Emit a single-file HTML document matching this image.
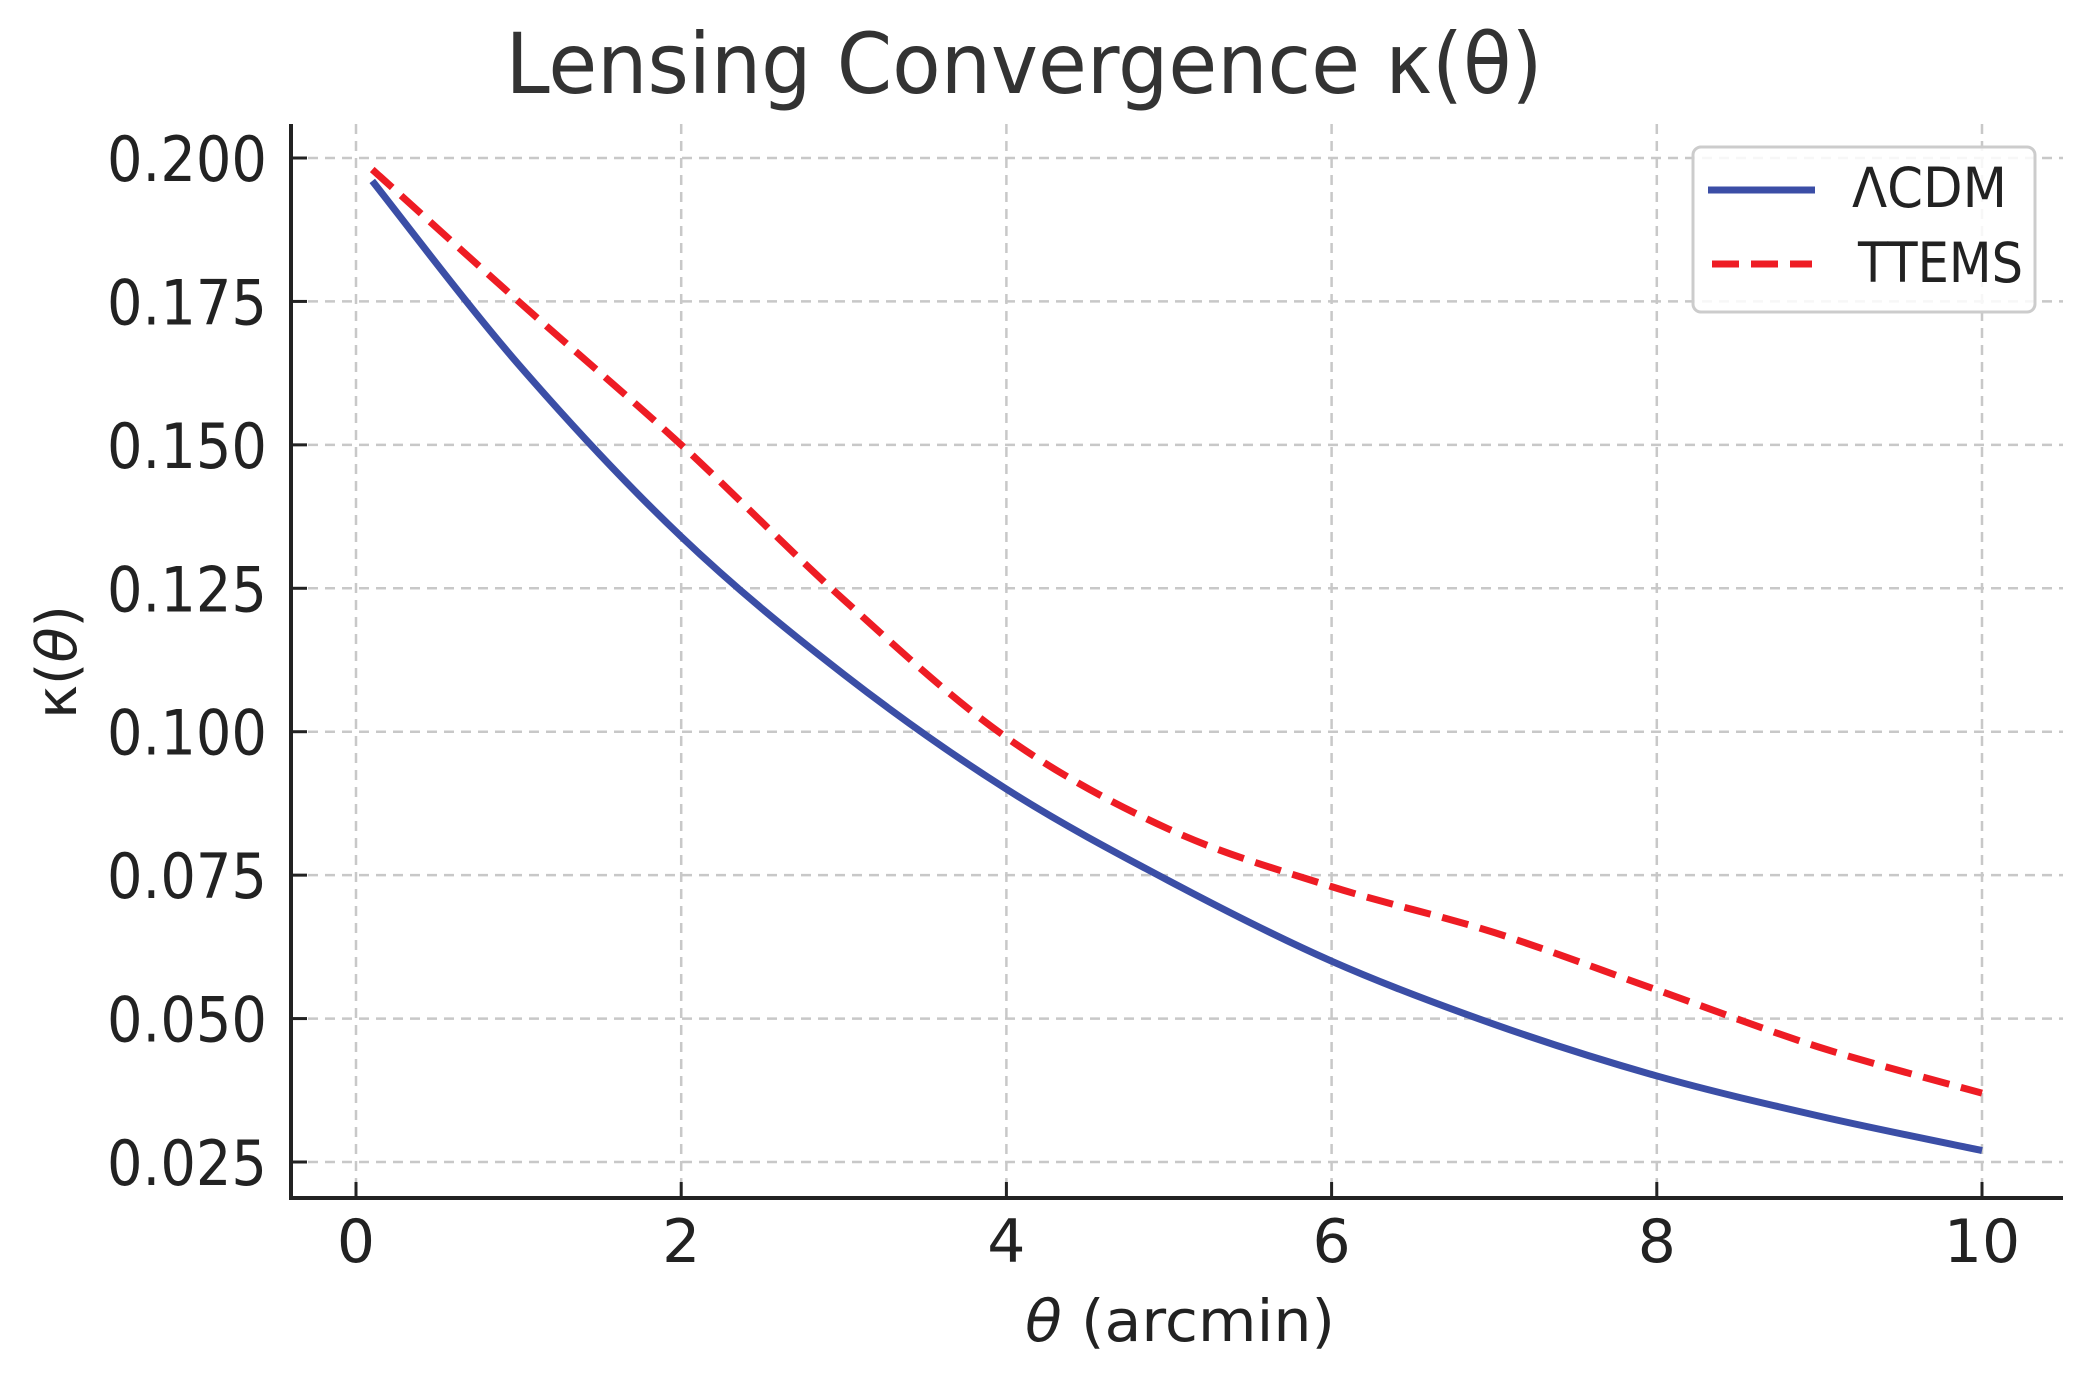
<!DOCTYPE html>
<html><head><meta charset="utf-8"><style>
html,body{margin:0;padding:0;background:#fff;}
svg{display:block;font-family:"DejaVu Sans","Liberation Sans",sans-serif;}
</style></head><body>
<svg id="chart" width="2099" height="1379" viewBox="0 0 2099 1379" xmlns="http://www.w3.org/2000/svg">
<rect width="2099" height="1379" fill="#fff"/>
<text x="1024" y="93" font-size="84" fill="#333" text-anchor="middle" textLength="1037" lengthAdjust="spacingAndGlyphs">Lensing Convergence κ(θ)</text>
<g id="grid"></g>
<g id="axes"></g>
<g id="series"></g>
<text x="1180" y="1341" font-size="58" fill="#222" text-anchor="middle" textLength="310" lengthAdjust="spacingAndGlyphs"><tspan font-style="italic">θ</tspan> (arcmin)</text>
<text transform="translate(76,662) rotate(-90)" font-size="56" fill="#222" text-anchor="middle" textLength="114" lengthAdjust="spacingAndGlyphs">κ(<tspan font-style="italic">θ</tspan>)</text>
<g>
<rect x="1693" y="147" width="342" height="165" rx="8" fill="#fff" fill-opacity="0.85" stroke="#ccc" stroke-width="3"/>
<line x1="1708" y1="190" x2="1815" y2="190" stroke="#3b4ea6" stroke-width="7"/>
<text x="1852" y="207" font-size="55" fill="#222" textLength="155" lengthAdjust="spacingAndGlyphs">ΛCDM</text>
<line x1="1712" y1="264" x2="1812" y2="264" stroke="#ee1c24" stroke-width="7" stroke-dasharray="27,12"/>
<text x="1858" y="282" font-size="55" fill="#222" textLength="165" lengthAdjust="spacingAndGlyphs">TTEMS</text>
</g>
</svg>
<script>
const thetaValues = [0.1, 1, 2, 3, 4, 5, 6, 7, 8, 9, 10];
const lcdmValues = [0.196, 0.164, 0.134, 0.110, 0.090, 0.074, 0.060, 0.049, 0.040, 0.033, 0.027];
const ttemsValues = [0.198, 0.175, 0.150, 0.123, 0.099, 0.083, 0.073, 0.065, 0.055, 0.045, 0.037];
const xTicks = [0, 2, 4, 6, 8, 10];
const yTicks = [0.025, 0.050, 0.075, 0.100, 0.125, 0.150, 0.175, 0.200];
const yTickLabels = ["0.025", "0.050", "0.075", "0.100", "0.125", "0.150", "0.175", "0.200"];

const NS = "http://www.w3.org/2000/svg";
const X0 = 356, X10 = 1982, Y025 = 1162, Y200 = 158;
function sx(v){ return X0 + (X10 - X0) * v / 10; }
function sy(v){ return Y025 + (Y200 - Y025) * (v - 0.025) / 0.175; }
function mk(tag, attrs, parent){
  const e = document.createElementNS(NS, tag);
  for (const k in attrs) e.setAttribute(k, attrs[k]);
  parent.appendChild(e);
  return e;
}
const grid = document.getElementById('grid');
const axes = document.getElementById('axes');
const series = document.getElementById('series');
const LEFT = 291, BOTTOM = 1198, TOP = 124, RIGHT = 2063;

xTicks.forEach(t => {
  const g = mk('line', {x1: sx(t), x2: sx(t), y1: TOP, y2: BOTTOM, stroke: '#c8c8c8', 'stroke-width': 2.5, 'stroke-dasharray': '10,7'}, grid);
  
  
  const tk = mk('line', {x1: sx(t), x2: sx(t), y1: BOTTOM, y2: BOTTOM - 16, stroke: '#222', 'stroke-width': 3}, axes);
  
  
  const lb = mk('text', {x: sx(t), y: 1262, 'font-size': 60, fill: '#222', 'text-anchor': 'middle'}, axes);
  lb.textContent = String(t);
  
  
});
yTicks.forEach((t, i) => {
  const g = mk('line', {x1: LEFT, x2: RIGHT, y1: sy(t), y2: sy(t), stroke: '#c8c8c8', 'stroke-width': 2.5, 'stroke-dasharray': '10,7'}, grid);
  
  
  const tk = mk('line', {x1: LEFT, x2: LEFT + 16, y1: sy(t), y2: sy(t), stroke: '#222', 'stroke-width': 3}, axes);
  
  
  const lb = mk('text', {x: 267, y: sy(t) + 23, 'font-size': 62, fill: '#222', 'text-anchor': 'end', textLength: 160, lengthAdjust: 'spacingAndGlyphs'}, axes);
  lb.textContent = yTickLabels[i];
  
  
});
const ls = mk('line', {x1: LEFT, x2: LEFT, y1: TOP, y2: BOTTOM + 2, stroke: '#222', 'stroke-width': 4}, axes);


const bs = mk('line', {x1: LEFT - 2, x2: RIGHT, y1: BOTTOM, y2: BOTTOM, stroke: '#222', 'stroke-width': 4}, axes);



function smoothPath(xs, ys){
  const p = xs.map((x, i) => [sx(x), sy(ys[i])]);
  let d = 'M' + p[0][0] + ',' + p[0][1];
  for (let i = 0; i < p.length - 1; i++){
    const a = p[Math.max(0, i - 1)], b = p[i], c = p[i + 1], e = p[Math.min(p.length - 1, i + 2)];
    const c1 = [b[0] + (c[0] - a[0]) / 6, b[1] + (c[1] - a[1]) / 6];
    const c2 = [c[0] - (e[0] - b[0]) / 6, c[1] - (e[1] - b[1]) / 6];
    d += ' C' + c1[0] + ',' + c1[1] + ' ' + c2[0] + ',' + c2[1] + ' ' + c[0] + ',' + c[1];
  }
  return d;
}
const lc = mk('path', {d: smoothPath(thetaValues, lcdmValues), fill: 'none', stroke: '#3b4ea6', 'stroke-width': 7}, series);


const tt = mk('path', {d: smoothPath(thetaValues, ttemsValues), fill: 'none', stroke: '#ee1c24', 'stroke-width': 7, 'stroke-dasharray': '27,12'}, series);


</script>
</body></html>
